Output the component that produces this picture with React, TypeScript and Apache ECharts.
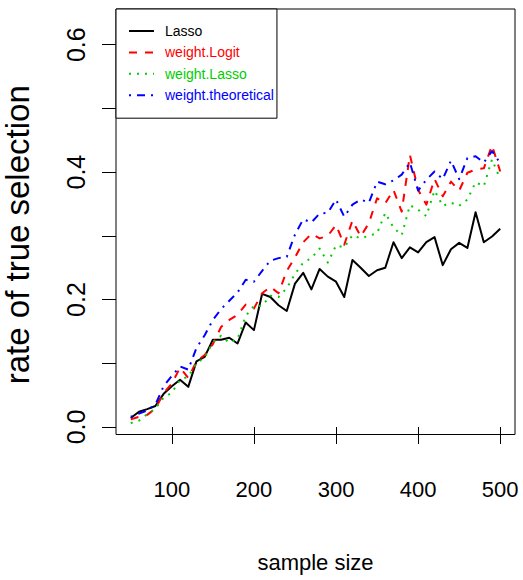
import React, { useEffect, useRef } from "react";
import * as echarts from "echarts";

const sampleSizes = [
  50, 60, 70, 80, 90, 100, 110, 120, 130, 140, 150, 160, 170, 180, 190, 200,
  210, 220, 230, 240, 250, 260, 270, 280, 290, 300, 310, 320, 330, 340, 350,
  360, 370, 380, 390, 400, 410, 420, 430, 440, 450, 460, 470, 480, 490, 500,
];

const lasso = [
  0.014, 0.024, 0.028, 0.033, 0.052, 0.064, 0.074, 0.063, 0.103, 0.11, 0.137,
  0.137, 0.14, 0.131, 0.164, 0.152, 0.209, 0.204, 0.191, 0.182, 0.225, 0.242,
  0.216, 0.248, 0.236, 0.228, 0.204, 0.262, 0.25, 0.237, 0.246, 0.25, 0.29,
  0.265, 0.282, 0.274, 0.29, 0.298, 0.254, 0.279, 0.289, 0.281, 0.337, 0.29,
  0.299, 0.311,
];

const weightLogit = [
  0.012, 0.016, 0.019, 0.029, 0.053, 0.068, 0.093, 0.077, 0.103, 0.113, 0.13,
  0.157, 0.168, 0.176, 0.192, 0.186, 0.21, 0.22, 0.21, 0.245, 0.266, 0.29,
  0.303, 0.296, 0.3, 0.317, 0.286, 0.324, 0.299, 0.32, 0.359, 0.351, 0.372,
  0.338, 0.427, 0.372, 0.349, 0.389, 0.362, 0.385, 0.371, 0.399, 0.404, 0.406,
  0.442, 0.401,
];

const weightLasso = [
  0.006, 0.01, 0.02, 0.029, 0.046, 0.054, 0.074, 0.079, 0.1, 0.109, 0.133,
  0.143, 0.132, 0.138, 0.174, 0.19, 0.19, 0.206, 0.204, 0.218, 0.24, 0.258,
  0.265, 0.28, 0.258, 0.285, 0.282, 0.301, 0.296, 0.3, 0.304, 0.336, 0.313,
  0.301, 0.348, 0.341, 0.331, 0.371, 0.347, 0.352, 0.347, 0.357, 0.384, 0.378,
  0.42, 0.389,
];

const weightTheoretical = [
  0.016, 0.021, 0.026, 0.035, 0.064, 0.08, 0.095, 0.09, 0.124, 0.144, 0.168,
  0.185, 0.198, 0.211, 0.231, 0.228, 0.245, 0.261, 0.265, 0.267, 0.302, 0.326,
  0.321, 0.335, 0.336, 0.357, 0.33, 0.349, 0.357, 0.352, 0.385, 0.381, 0.387,
  0.396, 0.415, 0.371, 0.388, 0.401, 0.389, 0.418, 0.389, 0.422, 0.425, 0.415,
  0.433, 0.414,
];

const xTicks = [100, 200, 300, 400, 500];
const yTicks = [0, 0.1, 0.2, 0.3, 0.4, 0.5, 0.6];
const yLabelValues = [0, 0.2, 0.4, 0.6];

const seriesNames = ["Lasso", "weight.Logit", "weight.Lasso", "weight.theoretical"];
const seriesColors = ["#000000", "#FF0000", "#00CD00", "#0000FF"];

export default function App() {
  const ref = useRef<HTMLDivElement>(null);

  useEffect(() => {
    if (!ref.current) return;
    const chart = echarts.init(ref.current, null, { renderer: "svg" });
    const font = "'Liberation Sans', Arial, Helvetica, sans-serif";
    const dashes: any[] = ["solid", [8, 8], [2, 6], [2, 6, 8, 6]];
    const values = [lasso, weightLogit, weightLasso, weightTheoretical];

    const series = seriesNames.map((name, k) => ({
      name,
      type: "line",
      data: sampleSizes.map((x, i) => [x, values[k][i]]),
      symbol: "none",
      showSymbol: false,
      silent: true,
      lineStyle: { color: seriesColors[k], width: 2, type: dashes[k], cap: "butt", join: "round" },
      itemStyle: { color: seriesColors[k] },
    }));

    chart.setOption({
      animation: false,
      backgroundColor: "#ffffff",
      grid: {
        left: 116,
        right: 8,
        top: 9,
        bottom: 145.5,
        containLabel: false,
        outerBoundsMode: "none",
        show: true,
        borderColor: "#000",
        borderWidth: 1,
        backgroundColor: "transparent",
      },
      legend: {
        orient: "vertical",
        left: 116,
        top: 9,
        padding: [15, 3, 16, 12],
        itemWidth: 25,
        itemHeight: 14,
        itemGap: 7.4,
        backgroundColor: "#fff",
        borderColor: "#000",
        borderWidth: 1,
        borderRadius: 0,
        selectedMode: false,
        itemStyle: { opacity: 0 },
        textStyle: { fontFamily: font, fontSize: 14, padding: [0, 0, 0, 6] },
        data: seriesNames.map((name, k) => ({ name, textStyle: { color: seriesColors[k] } })),
      },
      xAxis: {
        type: "value",
        min: 32,
        max: 518,
        name: "sample size",
        nameLocation: "middle",
        nameGap: 117,
        nameTextStyle: { fontFamily: font, fontSize: 22, color: "#000" },
        axisLine: { show: false },
        splitLine: { show: false },
        axisTick: {
          show: true,
          inside: false,
          length: 17,
          customValues: xTicks,
          lineStyle: { color: "#000", width: 1 },
        },
        axisLabel: {
          customValues: xTicks,
          margin: 44,
          fontFamily: font,
          fontSize: 22,
          color: "#000",
        },
      },
      yAxis: {
        type: "value",
        min: -0.0118,
        max: 0.656,
        name: "rate of true selection",
        nameLocation: "middle",
        nameGap: 82,
        nameRotate: 90,
        nameTextStyle: { fontFamily: font, fontSize: 33, color: "#000", padding: [0, 26, 0, 0] },
        axisLine: { show: false },
        splitLine: { show: false },
        axisTick: {
          show: true,
          inside: false,
          length: 14,
          customValues: yTicks,
          lineStyle: { color: "#000", width: 1 },
        },
        axisLabel: {
          customValues: yLabelValues,
          rotate: 90,
          margin: 28,
          fontFamily: font,
          fontSize: 25,
          color: "#000",
          formatter: (v: number) => v.toFixed(1),
        },
      },
      series,
    });

    return () => chart.dispose();
  }, []);

  return (
    <div
      ref={ref}
      style={{ position: "absolute", left: 0, top: 0, width: 523, height: 580 }}
    />
  );
}
